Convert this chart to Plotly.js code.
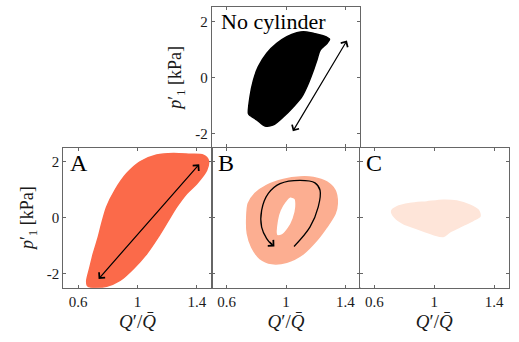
<!DOCTYPE html>
<html>
<head>
<meta charset="utf-8">
<script src="https://cdn.plot.ly/plotly-3.0.1.min.js"></script>
<style>html,body{margin:0;padding:0;background:#fff;}#chart{width:519px;height:342px;}</style>
</head>
<body>
<div id="chart"></div>
<script>
// Outline of each scatter cloud (Q'/Qbar, p'_1 in kPa)
const noCylX = [0.747,0.758,0.781,0.814,0.871,0.938,1.006,1.073,1.118,1.185,1.253,1.293,1.275,1.230,1.208,1.185,1.151,1.107,1.050,0.983,0.915,0.859,0.803,0.754];
const noCylY = [-1.29,-0.69,-0.10,0.38,0.86,1.21,1.45,1.59,1.63,1.57,1.48,1.36,1.21,0.975,0.62,0.26,-0.21,-0.69,-1.05,-1.41,-1.70,-1.74,-1.52,-1.35];

const aX = [0.658,0.680,0.702,0.736,0.759,0.792,0.848,0.927,1.017,1.129,1.241,1.354,1.443,1.477,1.466,1.399,1.332,1.264,1.208,1.140,1.062,0.972,0.882,0.792,0.702,0.662];
const aY = [-2.24,-1.76,-1.29,-0.69,-0.21,0.38,0.975,1.57,1.99,2.23,2.29,2.26,2.23,2.05,1.69,1.21,0.86,0.38,-0.10,-0.69,-1.29,-1.82,-2.24,-2.45,-2.50,-2.42];

const bOuterX = [0.736,0.746,0.791,0.870,0.982,1.094,1.184,1.274,1.330,1.345,1.330,1.274,1.207,1.116,1.005,0.904,0.825,0.769,0.740];
const bOuterY = [0.02,0.50,0.86,1.15,1.36,1.45,1.43,1.27,0.975,0.50,0.14,-0.34,-0.81,-1.29,-1.59,-1.64,-1.46,-1.05,-0.57];
const bInnerX = [0.937,0.941,0.960,0.993,1.027,1.061,1.067,1.049,1.015,0.971];
const bInnerY = [-0.63,-0.10,0.26,0.56,0.74,0.68,0.38,-0.04,-0.39,-0.63];

const cX = [0.715,0.749,0.838,0.950,1.060,1.150,1.239,1.295,1.306,1.261,1.194,1.105,1.060,0.994,0.883,0.793,0.737];
const cY = [0.24,0.38,0.50,0.56,0.62,0.59,0.44,0.26,0.05,-0.10,-0.28,-0.51,-0.67,-0.60,-0.39,-0.21,0.00];

// Curved arrow path in panel B
const bCurveX = [1.054,1.161,1.217,1.229,1.195,1.094,0.960,0.881,0.836,0.836,0.870,0.905];
const bCurveY = [-1.03,-0.34,0.38,0.975,1.24,1.33,1.21,0.86,0.26,-0.34,-0.75,-0.97];

// Arrows [x0,y0,x1,y1]
const arrowTop = [1.04,-1.98,1.41,1.31];
const arrowA = [0.729,-2.24,1.416,1.90];
const arrowBHead = [0.880,-0.82,0.922,-1.03];

const xTickVals = [0.6,1,1.4];
const xTickText = ['0.6','1','1.4'];
const yTickVals = [-2,0,2];
const yTickText = ['-2','0','2'];
const panelLabels = ['No cylinder','A','B','C'];

const colA = 'rgb(251,106,74)';
const colB = 'rgb(252,174,145)';
const colC = 'rgb(254,229,217)';

const W = 519, H = 342;
const fx = p => p / W;
const fy = p => 1 - p / H;
const SERIF = 'Liberation Serif';

function poly(x, y, col, xa, ya) {
  return {x: x.concat([x[0]]), y: y.concat([y[0]]), xaxis: xa, yaxis: ya, mode: 'lines',
    fill: 'toself', fillcolor: col, line: {color: col, width: 1.5, shape: 'spline', smoothing: 0.8},
    hoverinfo: 'skip', showlegend: false};
}

const innerRevX = bInnerX.slice().reverse();
const innerRevY = bInnerY.slice().reverse();

const traces = [
  poly(aX, aY, colA, 'x', 'y'),
  {x: bOuterX.concat([bOuterX[0], null]).concat(innerRevX).concat([innerRevX[0]]),
   y: bOuterY.concat([bOuterY[0], null]).concat(innerRevY).concat([innerRevY[0]]),
   xaxis: 'x2', yaxis: 'y2', mode: 'lines', fill: 'toself', fillcolor: colB,
   line: {color: colB, width: 1.5, shape: 'spline', smoothing: 0.8}, connectgaps: false,
   hoverinfo: 'skip', showlegend: false},
  poly(cX, cY, colC, 'x3', 'y3'),
  poly(noCylX, noCylY, 'black', 'x4', 'y4'),
  {x: bCurveX, y: bCurveY, xaxis: 'x2', yaxis: 'y2', mode: 'lines',
   line: {color: 'black', width: 1.3, shape: 'spline'}, hoverinfo: 'skip', showlegend: false}
];

const tickFont = {family: SERIF, size: 15, color: '#1a1a1a'};
const xTitleFont = {family: SERIF, size: 19, color: '#1a1a1a'};
const yTitleFont = {family: SERIF, size: 18, color: '#1a1a1a'};

function xax(dom, labels, anchor) {
  const o = {domain: dom, range: [0.5,1.5], anchor: anchor, tickvals: xTickVals, ticktext: xTickText,
    ticks: 'inside', ticklen: 3, tickcolor: '#666', mirror: 'ticks', showline: true, linecolor: '#666',
    linewidth: 1, showgrid: false, zeroline: false, showticklabels: labels, tickfont: tickFont,
    fixedrange: true};
  if (labels) o.title = {text: '<i>Q</i>′/<i>Q̄</i>', font: xTitleFont, standoff: 5};
  return o;
}
function yax(dom, labels, anchor) {
  const o = {domain: dom, range: [-2.5,2.5], anchor: anchor, tickvals: yTickVals, ticktext: yTickText,
    ticks: 'inside', ticklen: 3, tickcolor: '#666', mirror: 'ticks', showline: true, linecolor: '#666',
    linewidth: 1, showgrid: false, zeroline: false, showticklabels: labels, tickfont: tickFont,
    fixedrange: true};
  if (labels) o.title = {text: '<i>p</i>′<sub>1</sub> [kPa]', font: yTitleFont, standoff: 8};
  return o;
}

const botDom = [fy(287.7), fy(147.5)];
const topDom = [fy(147.3), fy(7.3)];

function arrow(a, xr, yr, both) {
  return {x: a[2], y: a[3], ax: a[0], ay: a[1], xref: xr, yref: yr, axref: xr, ayref: yr,
    text: '', showarrow: true, arrowhead: 4, startarrowhead: 4, arrowside: both ? 'end+start' : 'end',
    arrowsize: 1.3, startarrowsize: 1.3, arrowwidth: 1.2, arrowcolor: 'black', standoff: 0, startstandoff: 0};
}
function label(t, xr, yr, size, x0) {
  return {text: t, x: x0, y: 2.5, xref: xr, yref: yr, xanchor: 'left', yanchor: 'top',
    showarrow: false, font: {family: SERIF, size: size, color: 'black'}};
}

const layout = {
  width: W, height: H, margin: {l: 0, r: 0, t: 0, b: 0},
  paper_bgcolor: 'white', plot_bgcolor: 'white', showlegend: false,
  xaxis: xax([fx(63.3), fx(211.7)], true, 'y'),
  yaxis: yax(botDom, true, 'x'),
  xaxis2: xax([fx(211.7), fx(360.3)], true, 'y2'),
  yaxis2: yax(botDom, false, 'x2'),
  xaxis3: xax([fx(359.5), fx(509)], true, 'y3'),
  yaxis3: yax(botDom, false, 'x3'),
  xaxis4: xax([fx(211.7), fx(360.3)], false, 'y4'),
  yaxis4: yax(topDom, true, 'x4'),
  annotations: [
    arrow(arrowTop, 'x4', 'y4', true),
    arrow(arrowA, 'x', 'y', true),
    arrow(arrowBHead, 'x2', 'y2', false),
    label(panelLabels[0], 'x4', 'y4', 22, 0.55),
    label(panelLabels[1], 'x', 'y', 24, 0.53),
    label(panelLabels[2], 'x2', 'y2', 24, 0.53),
    label(panelLabels[3], 'x3', 'y3', 24, 0.53)
  ]
};

Plotly.newPlot('chart', traces, layout, {staticPlot: true, displayModeBar: false});
</script>
</body>
</html>
